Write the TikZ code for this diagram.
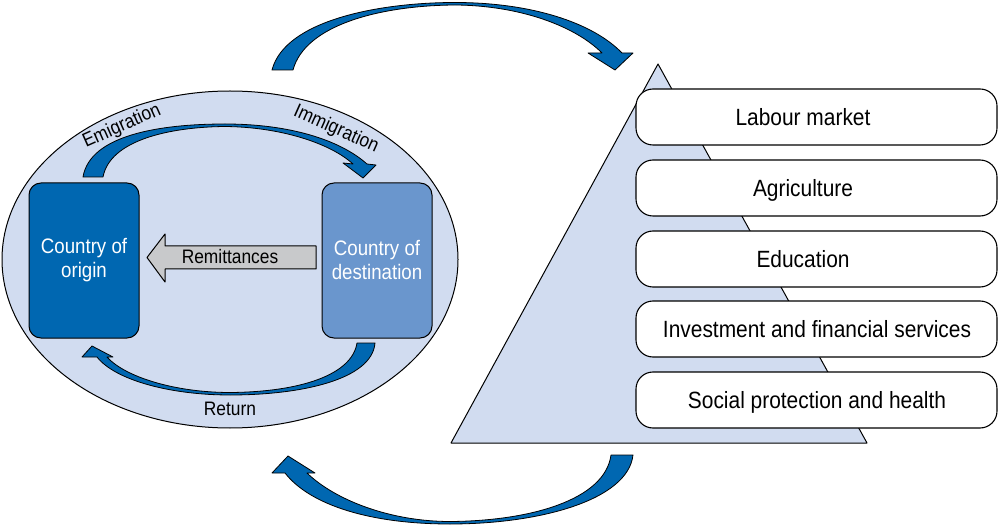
\documentclass[tikz,border=0pt]{standalone}
\usepackage{fontspec}
\setmainfont{Liberation Sans}[FakeStretch=0.89]
\definecolor{bluedark}{HTML}{0067B1}
\definecolor{bluemid}{HTML}{6A96CD}
\definecolor{ellfill}{HTML}{D1DCF0}
\definecolor{trifill}{HTML}{D1DCF0}
\definecolor{remgray}{HTML}{C8C9CB}
\begin{document}
\begin{tikzpicture}[x=1pt,y=-1pt,line join=round,
  blk/.style={draw=black,line width=0.8pt,fill=bluedark},
  country/.style={draw=black,line width=1pt,rounded corners=12pt,minimum width=110pt,minimum height=155pt,align=center,text=white,font=\fontsize{21}{24}\selectfont,inner sep=0pt},
  sector/.style={draw=black,line width=1.1pt,fill=white,rounded corners=17pt,minimum width=361pt,minimum height=56pt,inner sep=0pt},
  sectortext/.style={anchor=base,inner sep=0pt,font=\fontsize{23.5}{26}\selectfont},
  arclbl/.style={anchor=base,inner sep=0pt,font=\fontsize{19.5}{21}\selectfont}
]
\useasboundingbox (0,0) rectangle (1000,526);

% ellipse background
\draw[fill=ellfill,line width=1pt] (230,259.5) ellipse [x radius=228pt, y radius=168.5pt];

% pyramid
\coordinate (apex) at (658,64);
\coordinate (bl) at (451,443);
\coordinate (br) at (867,443);
\draw[fill=trifill,line width=1pt] (apex) -- (br) -- (bl) -- cycle;

% sector boxes
\node[sector] (b1) at (816.5,117) {};
\node[sector] (b2) at (816.5,188) {};
\node[sector] (b3) at (816.5,259) {};
\node[sector] (b4) at (816.5,329) {};
\node[sector] (b5) at (816.5,400) {};
\node[sectortext] (t1) at (803,125.3) {Labour market};
\node[sectortext] (t2) at (803,196.3) {Agriculture};
\node[sectortext] (t3) at (803,267.3) {Education};
\node[sectortext] (t4) at (817,337.3) {Investment and financial services};
\node[sectortext] (t5) at (817,408.3) {Social protection and health};

% countries
\node[country,fill=bluedark] (origin) at (84,260.5) {Country of\\origin};
\node[country,fill=bluemid] (dest) at (377,260.5) {Country of\\destination};

% remittances arrow
\draw[fill=remgray,line width=1pt] (316,246) -- (165,246) -- (165,234) -- (147,257.5) -- (165,282) -- (165,269) -- (316,269) -- cycle;
\node[anchor=base,inner sep=0pt,font=\fontsize{19.5}{22}\selectfont] (rem) at (230,264) {Remittances};

% emigration / immigration arrow
\draw[blk] (83,177) .. controls (90,135) and (160,124) .. (225,124)
  .. controls (290,124) and (340,140) .. (367,164) -- (376,165) -- (363,178) -- (343,163) -- (353,164)
  .. controls (330,143) and (280,127) .. (225,126.5)
  .. controls (170,127) and (110,140) .. (103,177) -- cycle;
\node[arclbl,rotate=24] (emi) at (124,131) {Emigration};
\node[arclbl,rotate=-24] (imm) at (334,134) {Immigration};

% return arrow
\draw[blk] (375,343) .. controls (372,380) and (300,395) .. (230,395)
  .. controls (170,395) and (115,380) .. (97,357) -- (82,357) -- (92,346) -- (113,357) -- (107,357)
  .. controls (125,377) and (175,392.5) .. (230,392.5)
  .. controls (300,392) and (352,375) .. (357,343) -- cycle;
\node[arclbl] (ret) at (230,415) {Return};

% big top arrow
\draw[blk] (272,70) .. controls (285,20) and (380,2.5) .. (455,2.5)
  .. controls (530,2.5) and (592,22) .. (622,53) -- (633,53) -- (615,70) -- (588,53) -- (602,53)
  .. controls (575,26) and (520,5.5) .. (455,5)
  .. controls (380,5.5) and (305,25) .. (293,70) -- cycle;

% big bottom arrow
\draw[blk] (633,455) .. controls (628,500) and (540,524) .. (450,524)
  .. controls (370,524) and (310,505) .. (285,473) -- (272,473) -- (288,456) -- (315,473) -- (307,473)
  .. controls (335,500) and (390,521.5) .. (450,521.5)
  .. controls (530,521) and (605,500) .. (611,455) -- cycle;
\end{tikzpicture}
\end{document}
